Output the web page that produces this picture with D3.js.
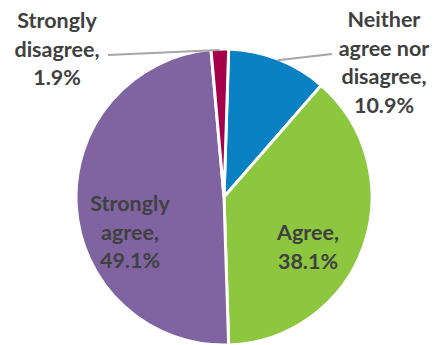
<!DOCTYPE html>
<html>
<head>
<meta charset="utf-8">
<script src="https://cdn.jsdelivr.net/npm/d3@7"></script>
<style>
  html, body { margin: 0; padding: 0; background: #fff; }
  svg { display: block; }
  text { font-family: Lato, "Open Sans", sans-serif; font-weight: 700; fill: #404040; }
</style>
</head>
<body>
<script>
// Survey responses, drawn clockwise from the top
const categories = ["Neither agree nor disagree", "Agree", "Strongly agree", "Strongly disagree"];
const values = [10.9, 38.1, 49.1, 1.9];
const colors = ["#0A81C3", "#8DC63F", "#8064A2", "#A5014A"];
// Label text, one entry per line
const labelLines = [
  ["Neither", "agree nor", "disagree,", "10.9%"],
  ["Agree,", "38.1%"],
  ["Strongly", "agree,", "49.1%"],
  ["Strongly", "disagree,", "1.9%"]
];

const W = 437, H = 345;
const cx = 224, cy = 197, R = 148;
const lineH = 28.5;
const startAngle = 1.8 * Math.PI / 180;

const svg = d3.select("body").append("svg").attr("width", W).attr("height", H);

const pie = d3.pie().sort(null).value(d => d)
  .startAngle(startAngle).endAngle(startAngle + 2 * Math.PI)(values);
const arc = d3.arc().innerRadius(0).outerRadius(R);

const g = svg.append("g").attr("transform", `translate(${cx},${cy})`);
g.selectAll("path")
  .data(pie)
  .join("path")
  .attr("d", arc)
  .attr("fill", (d, i) => colors[i])
  .attr("stroke", "#fff")
  .attr("stroke-width", 3);

// Label placement in page coordinates: centre x, first baseline, leader end
const labelPos = [
  { x: 384, y: 27, leader: [332, 54] },
  { x: 308, y: 240 },
  { x: 130, y: 211 },
  { x: 57, y: 28, leader: [108, 55] }
];

// Leader lines from the slice rim to the outside labels
pie.forEach((d, i) => {
  const p = labelPos[i];
  if (!p.leader) return;
  const a = (d.startAngle + d.endAngle) / 2;
  const start = [cx + Math.sin(a) * (R - 1), cy - Math.cos(a) * (R - 1)];
  svg.append("path")
    .attr("d", d3.line()([start, p.leader]))
    .attr("stroke", "#A6A6A6")
    .attr("stroke-width", 2)
    .attr("fill", "none");
});

labelLines.forEach((lines, i) => {
  const p = labelPos[i];
  const t = svg.append("text")
    .attr("text-anchor", "middle")
    .attr("font-size", 21.5);
  lines.forEach((s, k) => {
    t.append("tspan")
      .attr("x", p.x)
      .attr("y", p.y + k * lineH)
      .text(s);
  });
});
</script>
</body>
</html>
